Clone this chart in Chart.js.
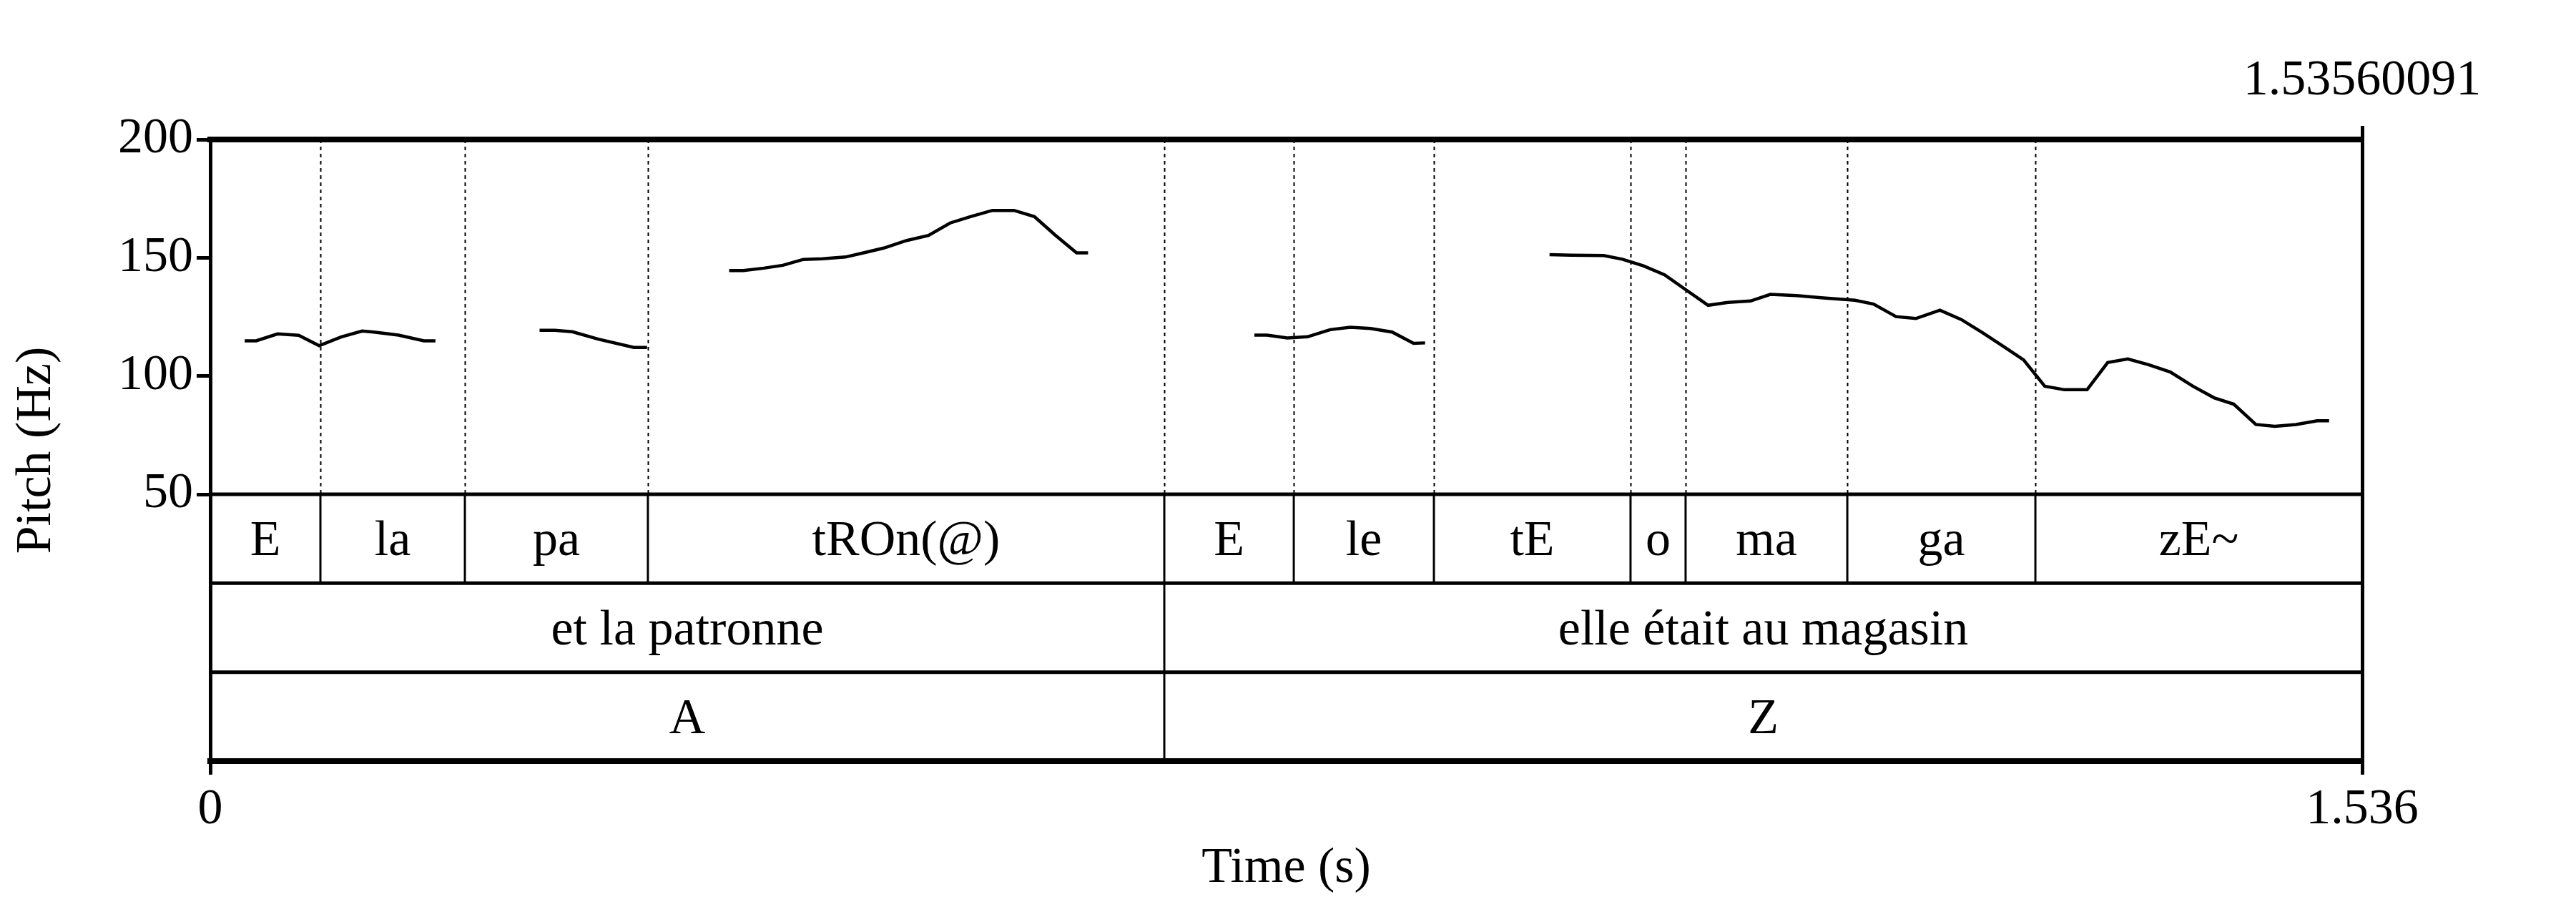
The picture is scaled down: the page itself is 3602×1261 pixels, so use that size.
<!DOCTYPE html>
<html>
<head>
<meta charset="utf-8">
<script src="https://cdn.jsdelivr.net/npm/chart.js@4.4.1/dist/chart.umd.min.js"></script>
<style>
  html, body { margin: 0; padding: 0; background: #fff; }
  canvas { display: block; }
</style>
</head>
<body>
<canvas id="pitch" width="3602" height="1261" style="width:3602px;height:1261px"></canvas>
<script>
const duration = 1.53560091;

// pitch track, null = unvoiced gap
const pitchTimes = [
  0.0246, 0.0328, 0.0480, 0.0631, 0.0777, 0.0933, 0.1084, 0.1168, 0.1344, 0.1524, 0.1607,
  0.2000,
  0.2350, 0.2457, 0.2584, 0.2769, 0.3023, 0.3117,
  0.3400,
  0.3703, 0.3804, 0.3950, 0.4086, 0.4232, 0.4369, 0.4532, 0.4678, 0.4806, 0.4970,
  0.5125, 0.5280, 0.5425, 0.5581, 0.5736, 0.5881, 0.6027, 0.6182, 0.6264,
  0.7000,
  0.7451, 0.7541, 0.7686, 0.7830, 0.7992, 0.8136, 0.8281, 0.8434, 0.8587, 0.8669,
  0.9000,
  0.9557, 0.9708, 0.9944, 1.0076, 1.0227, 1.0378, 1.0529, 1.0689, 1.0831, 1.0991,
  1.1133, 1.1322, 1.1511, 1.1737, 1.1869, 1.2030, 1.2171, 1.2343, 1.2495, 1.2647,
  1.2789, 1.2940, 1.3091, 1.3232, 1.3393, 1.3540, 1.3684, 1.3836, 1.3987, 1.4148,
  1.4299, 1.4440, 1.4597, 1.4733, 1.4884, 1.5035, 1.5120
];
const pitchHz = [
  114.9, 114.9, 117.8, 117.2, 112.8, 116.5, 119.0, 118.6, 117.3, 114.9, 114.9,
  null,
  119.3, 119.3, 118.7, 115.6, 112.1, 112.1,
  null,
  144.6, 144.6, 145.6, 146.8, 149.3, 149.6, 150.3, 152.3, 154.1, 157.3,
  159.4, 164.7, 167.4, 170.0, 170.0, 167.4, 159.7, 152.1, 152.1,
  null,
  117.3, 117.3, 116.1, 116.6, 119.6, 120.6, 120.1, 118.6, 113.8, 114.0,
  null,
  151.3, 151.1, 150.9, 149.4, 146.6, 142.8, 136.5, 129.9, 131.1, 131.7,
  134.5, 134.0, 133.0, 132.0, 130.4, 125.1, 124.3, 127.8, 123.9, 118.3,
  112.8, 106.8, 95.7, 94.2, 94.2, 105.7, 107.2, 104.7, 101.7, 95.7,
  90.8, 88.1, 79.5, 78.7, 79.5, 81.1, 81.1
];

const syllableBounds = [0, 0.0786, 0.1817, 0.3123, 0.6808, 0.7732, 0.8732, 1.0135, 1.0528, 1.1682, 1.3024, duration];
const syllableLabels = ['E', 'la', 'pa', 'tROn(@)', 'E', 'le', 'tE', 'o', 'ma', 'ga', 'zE~'];
const wordBounds = [0, 0.6808, duration];
const wordLabels = ['et la patronne', 'elle était au magasin'];
const speakerBounds = [0, 0.6808, duration];
const speakerLabels = ['A', 'Z'];

const pitchTicks = [50, 100, 150, 200];
const timeTicks = [0, duration];

const FONT = '"Liberation Serif", "Times New Roman", serif';
const yFloor = -62.8; // leaves room for the three tiers under 50 Hz

const tiers = [
  { bounds: syllableBounds, labels: syllableLabels },
  { bounds: wordBounds, labels: wordLabels },
  { bounds: speakerBounds, labels: speakerLabels }
];

const tierPlugin = {
  id: 'tiers',
  beforeDatasetsDraw(chart) {
    const { ctx, scales: { x, y } } = chart;
    const top = y.getPixelForValue(200);
    const base = y.getPixelForValue(50);
    ctx.save();
    ctx.strokeStyle = '#000';
    ctx.lineWidth = 2;
    ctx.setLineDash([5, 5]);
    syllableBounds.slice(1, -1).forEach(t => {
      const px = Math.round(x.getPixelForValue(t)) + 0.5;
      ctx.beginPath();
      ctx.moveTo(px, top);
      ctx.lineTo(px, base);
      ctx.stroke();
    });
    ctx.restore();
  },
  afterDraw(chart) {
    const { ctx, chartArea, scales: { x, y } } = chart;
    const base = y.getPixelForValue(50);
    const h = (chartArea.bottom - base) / tiers.length;
    ctx.save();
    ctx.strokeStyle = '#000';
    ctx.fillStyle = '#000';
    ctx.font = '70px ' + FONT;
    ctx.textAlign = 'center';
    ctx.textBaseline = 'alphabetic';
    tiers.forEach((tier, i) => {
      const t0 = base + i * h;
      if (i < tiers.length) {
        ctx.lineWidth = 5;
        ctx.beginPath();
        ctx.moveTo(chartArea.left, t0);
        ctx.lineTo(chartArea.right, t0);
        ctx.stroke();
      }
      ctx.lineWidth = 3;
      tier.bounds.slice(1, -1).forEach(t => {
        const px = x.getPixelForValue(t);
        ctx.beginPath();
        ctx.moveTo(px, t0);
        ctx.lineTo(px, t0 + h);
        ctx.stroke();
      });
      tier.labels.forEach((lab, k) => {
        const cx = (x.getPixelForValue(tier.bounds[k]) + x.getPixelForValue(tier.bounds[k + 1])) / 2;
        ctx.fillText(lab, cx, t0 + h / 2 + 23);
      });
    });
    ctx.restore();
  }
};

const points = pitchTimes.map((t, i) => ({ x: t, y: pitchHz[i] }));

new Chart(document.getElementById('pitch'), {
  type: 'line',
  data: {
    datasets: [{
      data: points,
      borderColor: '#000',
      borderWidth: 4.5,
      pointRadius: 0,
      tension: 0,
      spanGaps: false,
      fill: false
    }]
  },
  options: {
    responsive: false,
    animation: false,
    devicePixelRatio: 1,
    layout: { padding: 0 },
    plugins: {
      legend: { display: false },
      tooltip: { enabled: false }
    },
    scales: {
      x: {
        type: 'linear',
        position: 'bottom',
        min: 0,
        max: duration,
        afterBuildTicks: s => { s.ticks = timeTicks.map(v => ({ value: v })); },
        afterFit: s => { s.height = 197; },
        ticks: {
          autoSkip: false,
          maxRotation: 0,
          padding: 8,
          color: '#000',
          font: { family: FONT, size: 70 },
          callback: v => (v === 0 ? '0' : v.toFixed(3))
        },
        grid: { drawOnChartArea: false, drawTicks: true, tickLength: 19, lineWidth: 5, color: '#000' },
        border: { display: true, width: 8, color: '#000' },
        title: { display: true, text: 'Time (s)', color: '#000', font: { family: FONT, size: 70 }, padding: { top: 0, bottom: 4 } }
      },
      xTop: {
        type: 'linear',
        position: 'top',
        min: 0,
        max: duration,
        afterBuildTicks: s => { s.ticks = [{ value: duration }]; },
        afterFit: s => { s.height = 195; },
        ticks: {
          autoSkip: false,
          maxRotation: 0,
          padding: 20,
          color: '#000',
          font: { family: FONT, size: 70 },
          callback: v => String(v)
        },
        grid: { drawOnChartArea: false, drawTicks: true, tickLength: 19, lineWidth: 5, color: '#000' },
        border: { display: true, width: 8, color: '#000' }
      },
      y: {
        type: 'linear',
        position: 'left',
        min: yFloor,
        max: 200,
        afterBuildTicks: s => { s.ticks = pitchTicks.map(v => ({ value: v })); },
        afterFit: s => { s.width = 294; },
        ticks: {
          padding: 5,
          color: '#000',
          font: { family: FONT, size: 70 }
        },
        grid: { drawOnChartArea: false, drawTicks: true, tickLength: 19, lineWidth: 5, color: '#000' },
        border: { display: true, width: 5, color: '#000' },
        title: { display: true, text: 'Pitch (Hz)', color: '#000', font: { family: FONT, size: 70 }, padding: { top: 10, bottom: 0 } }
      },
      yRight: {
        type: 'linear',
        position: 'right',
        min: yFloor,
        max: 200,
        afterFit: s => { s.width = 299; },
        ticks: { display: false },
        grid: { display: false },
        border: { display: true, width: 5, color: '#000' }
      }
    }
  },
  plugins: [tierPlugin]
});
</script>
</body>
</html>
